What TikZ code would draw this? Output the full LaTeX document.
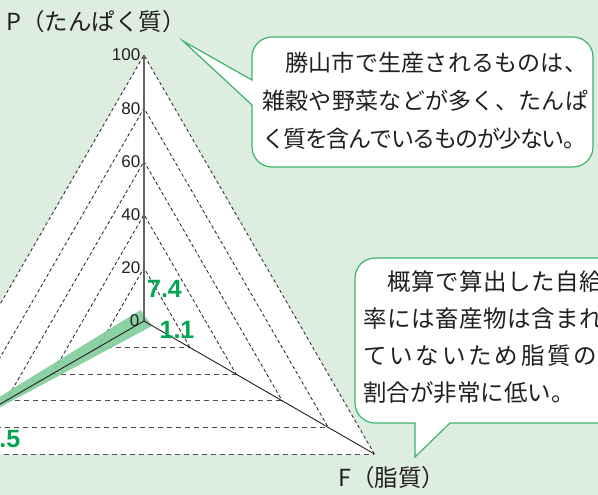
\documentclass[tikz,border=0pt]{standalone}
\usepackage{fontspec}
\setmainfont{Liberation Sans}
\newfontfamily\jp{Noto Sans CJK JP}
\usetikzlibrary{calc}
\definecolor{bg}{RGB}{221,238,224}
\definecolor{ink}{RGB}{35,31,32}
\definecolor{vgreen}{RGB}{0,166,81}
\definecolor{bandg}{RGB}{128,204,153}
\definecolor{cgreen}{RGB}{60,180,110}
\def\sprdend{}
\def\sprd#1{\ifx#1\sprdend\unskip\else#1\hskip 0pt plus 1fil minus 1fil\relax\expandafter\sprd\fi}
\newcommand\jline[2]{\makebox[#1][s]{\sprd#2\sprdend}}
\begin{document}
\begin{tikzpicture}[x=1pt,y=-1pt,
  tick/.style={font=\fontsize{17pt}{17pt}\selectfont, text=ink, inner sep=0pt, anchor=east},
  val/.style={font=\fontsize{25pt}{25pt}\selectfont\bfseries, text=vgreen, inner sep=0pt},
  title/.style={font=\jp\fontsize{23.5pt}{23.5pt}\selectfont, text=ink, inner sep=0pt, anchor=base west},
  clineA/.style={font=\jp\fontsize{23pt}{23pt}\selectfont, text=ink, inner sep=0pt, anchor=base west},
  clineB/.style={font=\jp\fontsize{23.5pt}{23.5pt}\selectfont, text=ink, inner sep=0pt, anchor=base west},
  gdash/.style={draw=ink, line width=0.8pt, dash pattern=on 3.5pt off 2.5pt},
  hdash/.style={draw=ink!80, line width=0.9pt, dash pattern=on 5.5pt off 3.5pt},
  axisline/.style={draw=ink, line width=0.9pt},
  paxis/.style={draw=ink!70, line width=1.2pt},
  callout/.style={fill=white, draw=cgreen, line width=1.2pt, line join=miter}
]
\useasboundingbox (0,0) rectangle (598,495);
\clip (0,0) rectangle (598,495);
\fill[bg] (0,0) rectangle (598,495);

\coordinate (O) at (144,321);
\foreach \r [count=\i] in {20,40,60,80,100} {
  \coordinate (P\i) at (144,{321-2.66*\r});
  \coordinate (F\i) at ({144+2.3036*\r},{321+1.33*\r});
  \coordinate (C\i) at ({144-2.3036*\r},{321+1.33*\r});
}
\fill[white] (P5) -- (F5) -- (C5) -- cycle;
\foreach \i in {1,...,5} {
  \draw[gdash] (C\i) -- (P\i) -- (F\i);
  \draw[hdash] (C\i) -- (F\i);
}

% data band
\coordinate (dP) at (140.5,310);
\coordinate (dF) at (152,326);
\coordinate (dC) at (-132,477.8);
\fill[bandg, opacity=0.9] (dP) -- (dF) -- (dC) -- cycle;

\draw[paxis] (O) -- (P5);
\draw[axisline] (O) -- (F5);
\draw[axisline] (O) -- (C5);

\node[tick] (t0) at (139.5,321) {0};
\foreach \r in {20,40,60,80,100}
  \node[tick] (t\r) at (140.5,{321-2.66*\r}) {\r};

\node[val] (vP) at (164.5,289) {7.4};
\node[val] (vF) at (177,330) {1.1};
\node[val, anchor=east] (vC) at (20.5,438.5) {91.5};

\node[title] (tP) at (6,31) {P（たんぱく質）};
\node[title] (tF) at (338,486) {F（脂質）};

% callout 1
\draw[callout] (252,105) -- (183,41) -- (252,80) -- (252,57)
  .. controls (252,46) and (261,37) .. (272,37) -- (573,37)
  .. controls (584,37) and (593,46) .. (593,57) -- (593,147)
  .. controls (593,158) and (584,167) .. (573,167) -- (272,167)
  .. controls (261,167) and (252,158) .. (252,147) -- cycle;
\node[clineA] (a1) at (262,72) {\jline{325pt}{　勝山市で生産されるものは、}};
\node[clineA] (a2) at (262,110) {\jline{326pt}{雑穀や野菜などが多く、たんぱ}};
\node[clineA] (a3) at (262,147) {\jline{324pt}{く質を含んでいるものが少ない。}};

% callout 2
\draw[callout] (450,423) -- (415,457) -- (415,423) -- (375,423)
  .. controls (364,423) and (355,414) .. (355,403) -- (355,278)
  .. controls (355,267) and (364,258) .. (375,258) -- (620,258)
  .. controls (631,258) and (640,267) .. (640,278) -- (640,403)
  .. controls (640,414) and (631,423) .. (620,423) -- cycle;
\node[clineB] (b1) at (363,290) {\jline{240pt}{　概算で算出した自給}};
\node[clineB] (b2) at (363,327) {\jline{240pt}{率には畜産物は含まれ}};
\node[clineB] (b3) at (363,364) {\jline{234pt}{ていないため脂質の}};
\node[clineB] (b4) at (363,401) {割合が非常に低い。};
\end{tikzpicture}
\end{document}
